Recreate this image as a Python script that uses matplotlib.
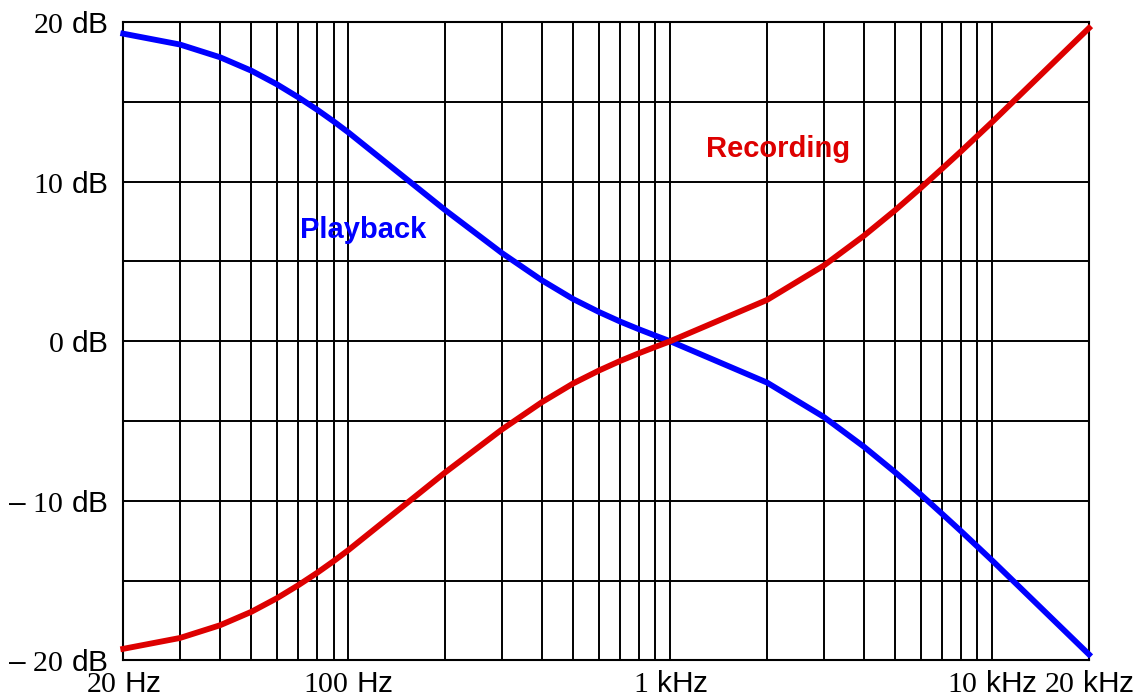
import matplotlib
matplotlib.use("Agg")
import matplotlib.pyplot as plt
from matplotlib.ticker import FixedLocator, NullFormatter

plt.rcParams["mathtext.fontset"] = "custom"
plt.rcParams["mathtext.rm"] = "Liberation Serif"

# RIAA equalisation, gain in dB at the standard table frequencies
freq_hz = [20, 30, 40, 50, 60, 70, 80, 90,
           100, 200, 300, 400, 500, 600, 700, 800, 900,
           1000, 2000, 3000, 4000, 5000, 6000, 7000, 8000, 9000,
           10000, 20000]
playback_db = [19.27, 18.59, 17.79, 16.95, 16.10, 15.28, 14.51, 13.78,
               13.09, 8.22, 5.53, 3.81, 2.64, 1.84, 1.23, 0.75, 0.35,
               0.00, -2.59, -4.74, -6.61, -8.21, -9.60, -10.82, -11.89, -12.86,
               -13.73, -19.62]
recording_db = [-v for v in playback_db]

x_tick_values = [20, 100, 1000, 10000, 20000]
x_tick_labels = [r"$\mathrm{20}$ Hz", r"$\mathrm{100}$ Hz", r"$\mathrm{1}$ kHz",
                 r"$\mathrm{10}$ kHz", r"$\mathrm{20}$ kHz"]
y_tick_values = [-20, -10, 0, 10, 20]
y_tick_labels = ["\u2013 " + r"$\mathrm{20}$ dB", "\u2013 " + r"$\mathrm{10}$ dB",
                 r"$\mathrm{0}$ dB", r"$\mathrm{10}$ dB", r"$\mathrm{20}$ dB"]

grid_x = [m * d for d in (10, 100, 1000, 10000) for m in range(1, 10)]
grid_x = [f for f in grid_x if 20 <= f <= 20000]
grid_y = [-20, -15, -10, -5, 0, 5, 10, 15, 20]

fig = plt.figure(figsize=(11.36, 6.99), dpi=100)
ax = fig.add_axes([0.1085, 0.0551, 0.8501, 0.9134])
ax.set_xscale("log")
ax.set_xlim(20, 20000)
ax.set_ylim(-20, 20)

# grid: 1..9 in every decade, every 5 dB
for f in grid_x:
    ax.axvline(f, color="black", lw=1.4, zorder=1)
for v in grid_y:
    ax.axhline(v, color="black", lw=1.4, zorder=1)

ax.plot(freq_hz, playback_db, color="#0000ff", lw=4.2, zorder=3,
        solid_joinstyle="miter", clip_on=False)
ax.plot(freq_hz, recording_db, color="#dd0000", lw=4.2, zorder=3,
        solid_joinstyle="miter", clip_on=False)

ax.text(111, 6.45, "Playback", color="#0000ff", fontsize=21,
        fontweight="bold", family="Liberation Sans", ha="center", va="baseline")
ax.text(2160, 11.56, "Recording", color="#dd0000", fontsize=21,
        fontweight="bold", family="Liberation Sans", ha="center", va="baseline")

ax.xaxis.set_major_locator(FixedLocator(x_tick_values))
ax.xaxis.set_minor_locator(FixedLocator([]))
ax.xaxis.set_minor_formatter(NullFormatter())
ax.set_xticklabels(x_tick_labels)
ax.set_yticks(y_tick_values)
ax.set_yticklabels(y_tick_labels)
ax.tick_params(axis="both", length=0, labelsize=21.5)
ax.tick_params(axis="x", pad=7)
ax.tick_params(axis="y", pad=11)
for lab in ax.get_xticklabels() + ax.get_yticklabels():
    lab.set_family("Liberation Sans")

for s in ax.spines.values():
    s.set_linewidth(1.5)
    s.set_color("black")

fig.savefig("out.png", dpi=100)
